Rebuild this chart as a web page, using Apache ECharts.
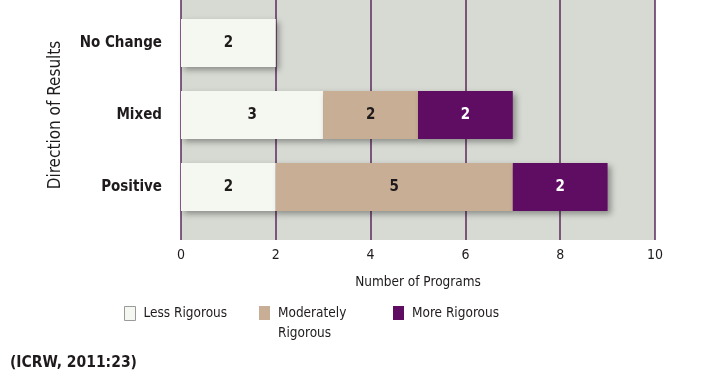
<!DOCTYPE html>
<html>
<head>
<meta charset="utf-8">
<script src="https://cdn.jsdelivr.net/npm/echarts@6/dist/echarts.min.js"></script>
<style>
html, body { margin: 0; padding: 0; background: #fff; }
#main { width: 714px; height: 376px; }
</style>
</head>
<body>
<div id="main"></div>
<script>
var categories = ['No Change', 'Mixed', 'Positive'];
var lessRigorous = [2, 3, 2];
var moderatelyRigorous = [0, 2, 5];
var moreRigorous = [0, 2, 2];
var xTicks = [0, 2, 4, 6, 8, 10];

var font = '"DejaVu Sans Condensed", sans-serif';
var ink = '#1f1b1c';
var shadow = {
    shadowColor: 'rgba(0,0,0,0.35)',
    shadowBlur: 6,
    shadowOffsetX: 3,
    shadowOffsetY: 3
};

function barLabel(color) {
    return {
        show: true,
        position: 'inside',
        color: color,
        fontFamily: font,
        fontWeight: 'bold',
        fontSize: 15,
        formatter: function (p) { return p.value ? p.value : ''; }
    };
}

var chart = echarts.init(document.getElementById('main'));

var option = {
    backgroundColor: '#fff',
    animation: false,
    title: {
        text: '(ICRW, 2011:23)',
        left: 5,
        top: 350,
        textStyle: { fontFamily: font, fontWeight: 'bold', fontSize: 15.5, color: ink }
    },
    legend: [
        {
            left: 119, top: 301, itemWidth: 11, itemHeight: 14,
            icon: 'rect',
            data: [{ name: 'Less Rigorous', itemStyle: { borderColor: '#9a9a9a', borderWidth: 1 } }],
            textStyle: { fontFamily: font, fontSize: 13.5, lineHeight: 14, color: ink, padding: [0, 0, 0, 3] }
        },
        {
            left: 254, top: 278, itemWidth: 11, itemHeight: 14,
            icon: 'rect',
            data: ['Moderately Rigorous'],
            // leading blank line keeps the first line level with the icon
            formatter: function () { return ' \nModerately\nRigorous'; },
            textStyle: { fontFamily: font, fontSize: 13.5, color: ink, lineHeight: 20, padding: [0, 0, 0, 3] }
        },
        {
            left: 388, top: 301, itemWidth: 11, itemHeight: 14,
            icon: 'rect',
            data: ['More Rigorous'],
            textStyle: { fontFamily: font, fontSize: 13.5, lineHeight: 14, color: ink, padding: [0, 0, 0, 3] }
        }
    ],
    grid: [
        { left: 181, right: 59, top: 0, height: 240, show: true, backgroundColor: '#d6dad2', borderWidth: 0 },
        { left: 181, right: 59, top: 7, height: 216 }
    ],
    xAxis: [
        {
            gridIndex: 0, type: 'value', min: 0, max: 10, interval: 2,
            axisLine: { show: false },
            axisTick: { show: false },
            splitLine: { show: true, lineStyle: { color: '#5b2a5e', width: 1.5 } },
            axisLabel: {
                margin: 8, fontFamily: font, fontSize: 14, color: ink,
                formatter: function (v) { return xTicks.indexOf(v) >= 0 ? String(v) : ''; }
            },
            name: 'Number of Programs',
            nameLocation: 'middle',
            nameGap: 35,
            nameTextStyle: { fontFamily: font, fontSize: 13.5, color: ink }
        },
        {
            gridIndex: 1, type: 'value', min: 0, max: 10,
            show: false
        }
    ],
    yAxis: [
        { gridIndex: 0, type: 'value', show: false },
        {
            gridIndex: 1, type: 'category', data: categories, inverse: true,
            axisLine: { show: false },
            axisTick: { show: false },
            axisLabel: { margin: 19, fontFamily: font, fontWeight: 'bold', fontSize: 15, color: ink },
            name: 'Direction of Results',
            nameLocation: 'middle',
            nameGap: 117,
            nameRotate: 90,
            nameMoveOverlap: false,
            nameTextStyle: { fontFamily: font, fontSize: 17, color: ink }
        }
    ],
    series: [
        {
            name: 'Less Rigorous', type: 'bar', stack: 'all',
            xAxisIndex: 1, yAxisIndex: 1, barWidth: 48,
            itemStyle: Object.assign({ color: '#f5f8f0' }, shadow),
            label: barLabel(ink),
            data: lessRigorous
        },
        {
            name: 'Moderately Rigorous', type: 'bar', stack: 'all',
            xAxisIndex: 1, yAxisIndex: 1, barWidth: 48,
            itemStyle: Object.assign({ color: '#c8ae95' }, shadow),
            label: barLabel(ink),
            data: moderatelyRigorous
        },
        {
            name: 'More Rigorous', type: 'bar', stack: 'all',
            xAxisIndex: 1, yAxisIndex: 1, barWidth: 48,
            itemStyle: Object.assign({ color: '#5f0d63' }, shadow),
            label: barLabel('#ffffff'),
            data: moreRigorous
        }
    ]
};

chart.setOption(option);
</script>
</body>
</html>
